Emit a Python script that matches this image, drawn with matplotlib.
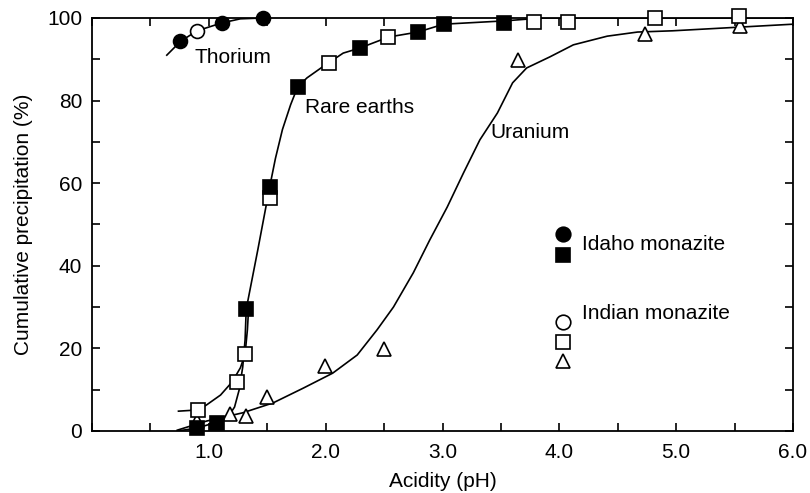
import numpy as np
import matplotlib
matplotlib.use("Agg")
import matplotlib.pyplot as plt
from matplotlib.ticker import MultipleLocator

plt.rcParams["font.family"] = ["Liberation Sans", "DejaVu Sans"]

# --- measured points (pH, cumulative precipitation %) ---
idaho_th_ph = [0.75, 1.11, 1.46]
idaho_th_pct = [94.4, 98.8, 100.0]
indian_th_ph = [0.90]
indian_th_pct = [96.9]

idaho_re_ph = [0.90, 1.07, 1.32, 1.52, 1.76, 2.29, 2.79, 3.01, 3.53]
idaho_re_pct = [0.7, 1.9, 29.5, 59.1, 83.3, 92.7, 96.6, 98.5, 98.8]

indian_re_ph = [0.91, 1.24, 1.31, 1.52, 2.03, 2.53, 3.78, 4.07, 4.82, 5.54]
indian_re_pct = [5.1, 11.9, 18.6, 56.4, 89.1, 95.4, 99.0, 99.0, 100.0, 100.5]

indian_u_ph = [0.90, 1.18, 1.32, 1.50, 1.99, 2.50, 3.65, 4.73, 5.55]
indian_u_pct = [2.4, 4.1, 3.6, 8.3, 15.8, 19.9, 89.8, 96.1, 98.1]

# --- hand-drawn fit curves ---
th_curve_ph = [0.64, 0.76, 0.90, 1.11, 1.27, 1.46]
th_curve_pct = [91.0, 94.4, 96.9, 98.8, 99.8, 100.0]

re_idaho_low_ph = [0.73, 0.90, 1.04, 1.16, 1.22, 1.26, 1.29, 1.31, 1.32]
re_idaho_low_pct = [0.0, 0.7, 1.9, 3.2, 5.8, 10.0, 15.5, 22.0, 29.5]
re_indian_low_ph = [0.74, 0.91, 0.98, 1.10, 1.20, 1.27, 1.31, 1.33, 1.34]
re_indian_low_pct = [4.8, 5.1, 6.3, 8.7, 11.9, 15.3, 18.6, 24.5, 29.5]
re_upper_ph = [1.32, 1.42, 1.52, 1.57, 1.63, 1.70, 1.76, 1.84, 1.97, 2.15, 2.29,
               2.54, 2.79, 3.01, 3.53, 3.85, 6.0]
re_upper_pct = [29.5, 44.0, 59.0, 66.0, 73.0, 79.0, 83.3, 85.5, 88.1, 91.5, 92.7,
                95.4, 96.6, 98.5, 99.3, 100.0, 100.0]

u_curve_ph = [0.73, 0.98, 1.29, 1.55, 1.81, 2.06, 2.27, 2.44, 2.58, 2.75,
              2.89, 3.04, 3.18, 3.32, 3.47, 3.60, 3.72, 3.92, 4.12, 4.41,
              4.67, 4.97, 5.55, 6.00]
u_curve_pct = [0.2, 2.4, 4.4, 6.8, 10.4, 14.0, 18.4, 24.5, 30.0, 38.3,
               46.2, 54.2, 62.5, 70.5, 77.0, 84.3, 87.9, 90.6, 93.5, 95.6,
               96.6, 96.9, 97.8, 98.5]

fig = plt.figure(figsize=(8.1, 4.93), dpi=100)
ax = fig.add_axes([0.1136, 0.1258, 0.979 - 0.1136, 0.9635 - 0.1258])

lw = 1.2
for xs, ys in [(th_curve_ph, th_curve_pct), (re_idaho_low_ph, re_idaho_low_pct),
               (re_indian_low_ph, re_indian_low_pct), (re_upper_ph, re_upper_pct),
               (u_curve_ph, u_curve_pct)]:
    ax.plot(xs, ys, color="black", lw=lw, zorder=2, solid_joinstyle="round")

mk = dict(linestyle="none", markeredgecolor="black", markeredgewidth=1.2,
          clip_on=False, zorder=3)
ax.plot(indian_u_ph, indian_u_pct, marker="^", ms=10.5, markerfacecolor="white", **mk)
ax.plot(indian_re_ph, indian_re_pct, marker="s", ms=10, markerfacecolor="white", **mk)
ax.plot(idaho_re_ph, idaho_re_pct, marker="s", ms=9.5, markerfacecolor="black", **mk)
ax.plot(indian_th_ph, indian_th_pct, marker="o", ms=10, markerfacecolor="white", **mk)
ax.plot(idaho_th_ph, idaho_th_pct, marker="o", ms=10, markerfacecolor="black", **mk)

# curve labels
fs = 15
ax.text(0.88, 90.5, "Thorium", fontsize=fs, va="center")
ax.text(1.82, 78.4, "Rare earths", fontsize=fs, va="center")
ax.text(3.41, 72.3, "Uranium", fontsize=fs, va="center")

# legend
tr = ax.transAxes
lk = dict(linestyle="none", markeredgecolor="black", markeredgewidth=1.2, transform=tr)
ax.plot([0.672], [0.476], marker="o", ms=10.5, markerfacecolor="black", **lk)
ax.plot([0.672], [0.425], marker="s", ms=9.5, markerfacecolor="black", **lk)
ax.plot([0.672], [0.265], marker="o", ms=10.5, markerfacecolor="white", **lk)
ax.plot([0.672], [0.216], marker="s", ms=10, markerfacecolor="white", **lk)
ax.plot([0.672], [0.170], marker="^", ms=10.5, markerfacecolor="white", **lk)
ax.text(0.699, 0.452, "Idaho monazite", fontsize=fs, va="center", transform=tr)
ax.text(0.699, 0.284, "Indian monazite", fontsize=fs, va="center", transform=tr)

ax.set_xlim(0, 6)
ax.set_ylim(0, 100)
ax.set_xticks([1, 2, 3, 4, 5, 6])
ax.set_xticklabels(["1.0", "2.0", "3.0", "4.0", "5.0", "6.0"])
ax.xaxis.set_minor_locator(MultipleLocator(0.5))
ax.set_yticks([0, 20, 40, 60, 80, 100])
ax.yaxis.set_minor_locator(MultipleLocator(10))
ax.tick_params(which="both", direction="in", top=True, right=True,
               length=6, width=1.2, labelsize=fs)
ax.tick_params(axis="x", pad=9)
ax.tick_params(axis="y", pad=7)
for s in ax.spines.values():
    s.set_linewidth(1.3)

ax.set_xlabel("Acidity (pH)", fontsize=fs, labelpad=7)
ax.set_ylabel("Cumulative precipitation (%)", fontsize=fs, labelpad=10)

fig.savefig("out.png", dpi=100)
